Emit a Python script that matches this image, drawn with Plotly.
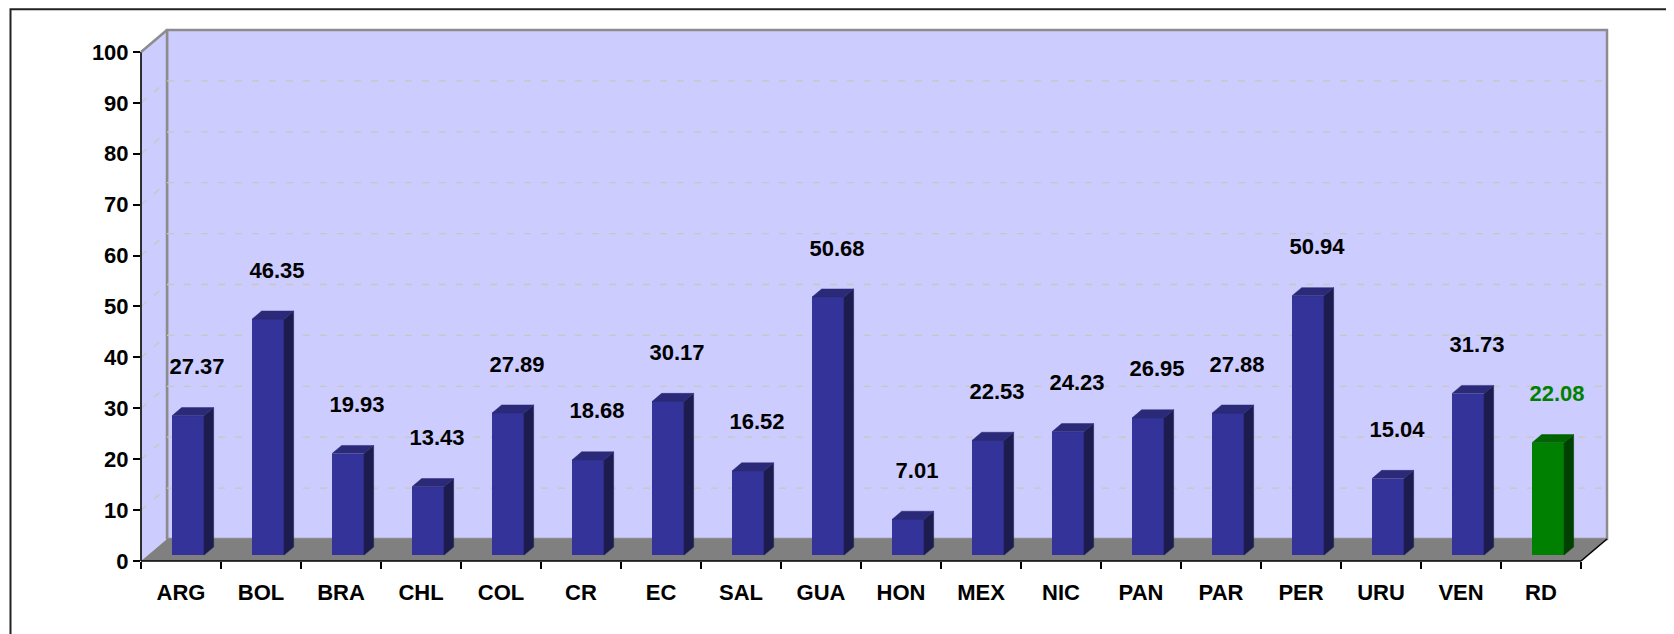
import plotly.graph_objects as go

# ---------------- data ----------------
categories = ["ARG", "BOL", "BRA", "CHL", "COL", "CR", "EC", "SAL", "GUA",
              "HON", "MEX", "NIC", "PAN", "PAR", "PER", "URU", "VEN", "RD"]
values = [27.37, 46.35, 19.93, 13.43, 27.89, 18.68, 30.17, 16.52, 50.68,
          7.01, 22.53, 24.23, 26.95, 27.88, 50.94, 15.04, 31.73, 22.08]
highlight = "RD"
y_ticks = list(range(0, 101, 10))

# ---------------- style ----------------
OFF = 8                        # default page (body) margin of the html page
W, H = 1674 - OFF, 634 - OFF
ML, MT = 141 - OFF, 30 - OFF
MR = W - (1607 - OFF)
MB = H - (561 - OFF)
DX, DY = 0.325, 4.32          # 3D depth offset in data units
BAR_FRONT, BAR_BACK = 0.27, 0.64
BAR_W = 0.4
LABEL_OFF = 10.4
YMAX = 100

WALL = "#CCCCFF"
FLOOR = "#808080"
EDGE = "#8C8C8C"
GRID = "#C8C8BC"
BLUE = ("#333399", "#2A2A78", "#1C1C4E")   # front, top, side
GREEN = ("#008000", "#006400", "#004000")
FONT = "Liberation Sans, Arial, sans-serif"

n = len(categories)
X0, X1 = -0.5, n - 0.5 + DX
Y0, Y1 = 0, YMAX + DY


def px(x):
    return (x - X0) / (X1 - X0)


def py(y):
    return (y - Y0) / (Y1 - Y0)


def pxp(p):  # page pixel -> paper (x)
    return (p - OFF - ML) / (W - ML - MR)


def pyp(p):  # page pixel -> paper (y)
    return (H - MB - (p - OFF)) / (H - MT - MB)


def path(points):
    return "M " + " L ".join(f"{px(x):.6f},{py(y):.6f}" for x, y in points) + " Z"


def seg(x0, y0, x1, y1, **line):
    return dict(type="line", xref="paper", yref="paper", layer="below",
                x0=px(x0), x1=px(x1), y0=py(y0), y1=py(y1), line=line)


shapes = []
# back wall
shapes.append(dict(type="rect", xref="paper", yref="paper", layer="below",
                   x0=px(-0.5 + DX), x1=px(n - 0.5 + DX), y0=py(DY), y1=py(YMAX + DY),
                   fillcolor=WALL, line=dict(color=EDGE, width=2.5)))
# left wall
shapes.append(dict(type="path", xref="paper", yref="paper", layer="below",
                   path=path([(-0.5, 0), (-0.5 + DX, DY), (-0.5 + DX, YMAX + DY), (-0.5, YMAX)]),
                   fillcolor=WALL, line=dict(width=0)))
shapes.append(seg(-0.5 + DX, DY, -0.5 + DX, YMAX + DY, color=EDGE, width=2.5))
# gridlines
for v in y_ticks[1:-1]:
    shapes.append(seg(-0.5 + DX, v + DY, n - 0.5 + DX, v + DY, color=GRID, width=1.3, dash="7px,10px"))
    shapes.append(seg(-0.5, v, -0.5 + DX, v + DY, color=GRID, width=1.3, dash="7px,10px"))
# floor
shapes.append(dict(type="path", xref="paper", yref="paper", layer="below",
                   path=path([(-0.5, 0), (n - 0.5, 0), (n - 0.5 + DX, DY), (-0.5 + DX, DY)]),
                   fillcolor=FLOOR, line=dict(width=0)))
# axis lines
shapes.append(seg(-0.5, 0, n - 0.5, 0, color="black", width=1.6))
shapes.append(seg(n - 0.5, 0, n - 0.5 + DX, DY, color="black", width=1.6))
shapes.append(seg(-0.5, 0, -0.5, YMAX, color="black", width=1.6))
shapes.append(seg(-0.5, YMAX, -0.5 + DX, YMAX + DY, color=EDGE, width=2.5))
# outer border of the chart area
shapes.append(dict(type="rect", xref="paper", yref="paper", layer="below",
                   x0=pxp(10.5), x1=pxp(1700), y0=pyp(660), y1=pyp(9.2),
                   fillcolor="rgba(0,0,0,0)", line=dict(color="#222222", width=2)))

fig = go.Figure()

idx = list(range(n))
fx, fy = BAR_FRONT * DX, BAR_FRONT * DY
ddx, ddy = (BAR_BACK - BAR_FRONT) * DX, (BAR_BACK - BAR_FRONT) * DY
pal = [GREEN if c == highlight else BLUE for c in categories]

fig.add_trace(go.Bar(x=idx, y=values, base=fy, width=BAR_W, offset=-BAR_W / 2 + fx,
                     marker=dict(color=[p[0] for p in pal], line=dict(width=0)),
                     hoverinfo="skip", showlegend=False))

for i, v in enumerate(values):
    xl = i - BAR_W / 2 + fx
    xr = xl + BAR_W
    yb, yt = fy, fy + v
    fig.add_trace(go.Scatter(x=[xr, xr + ddx, xr + ddx, xr, xr],
                             y=[yb, yb + ddy, yt + ddy, yt, yb],
                             fill="toself", fillcolor=pal[i][2], mode="lines",
                             line=dict(color=pal[i][2], width=0.5),
                             hoverinfo="skip", showlegend=False))
    fig.add_trace(go.Scatter(x=[xl, xr, xr + ddx, xl + ddx, xl],
                             y=[yt, yt, yt + ddy, yt + ddy, yt],
                             fill="toself", fillcolor=pal[i][1], mode="lines",
                             line=dict(color=pal[i][1], width=0.5),
                             hoverinfo="skip", showlegend=False))

fig.add_trace(go.Scatter(x=[i + 0.2 for i in idx], y=[v + LABEL_OFF for v in values],
                         mode="text", text=[f"{v:.2f}" for v in values],
                         textfont=dict(family=FONT, size=22, weight="bold",
                                       color=["#008000" if c == highlight else "black" for c in categories]),
                         cliponaxis=False, hoverinfo="skip", showlegend=False))

fig.update_layout(
    width=W, height=H,
    margin=dict(l=ML, r=MR, t=MT, b=MB, pad=0),
    paper_bgcolor="white", plot_bgcolor="rgba(0,0,0,0)",
    shapes=shapes, showlegend=False, bargap=0,
    xaxis=dict(range=[X0, X1], tickmode="array", tickvals=idx, ticktext=categories,
               ticks="", showgrid=False, zeroline=False, showline=False,
               tickfont=dict(family=FONT, size=22, weight="bold", color="black"),
               ticklabelstandoff=16,
               minor=dict(tickmode="array", tickvals=[i - 0.5 for i in range(n + 1)],
                          ticks="outside", ticklen=7, tickwidth=1.5, tickcolor="black",
                          showgrid=False)),
    yaxis=dict(range=[Y0, Y1], tickmode="array", tickvals=y_ticks,
               ticks="outside", ticklen=7, tickwidth=1.5, tickcolor="black",
               showgrid=False, zeroline=False, showline=False,
               tickfont=dict(family=FONT, size=22, weight="bold", color="black")),
)

fig.write_html("out.html")
